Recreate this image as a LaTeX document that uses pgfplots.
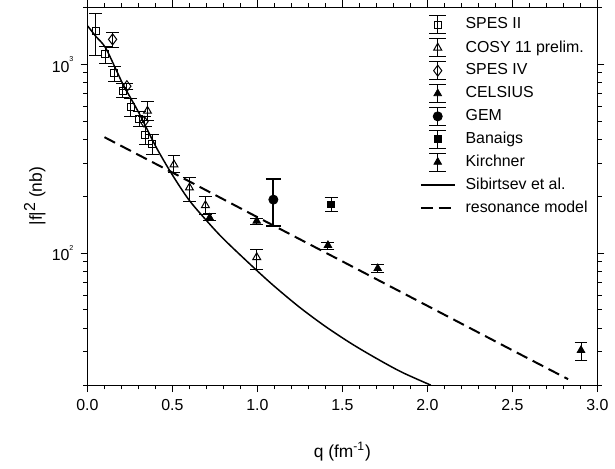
\documentclass[border=0pt]{standalone}
\usepackage{fontspec}
\setmainfont{Liberation Sans}
\usepackage{pgfplots}
\pgfplotsset{compat=1.18}

\newcommand{\dec}[1]{10\raisebox{5.5pt}{\fontsize{3.6}{4}\selectfont #1}}

\pgfplotsset{
  ebleg/.style={legend image code/.code={
    \path[draw=none, fill=none] (0cm,-5.75pt) rectangle (0.6cm,5.75pt);
    \draw[black, solid, line width=0.5pt] (0.3cm,-4.5pt) -- (0.3cm,4.5pt)
      (0.3cm-4.25pt,-4.5pt) -- (0.3cm+4.25pt,-4.5pt)
      (0.3cm-4.25pt,4.5pt) -- (0.3cm+4.25pt,4.5pt);
    \draw[##1] plot coordinates {(0.3cm,0cm)};
  }},
  lnleg/.style={legend image code/.code={
    \path[draw=none, fill=none] (0cm,-5.75pt) rectangle (0.6cm,5.75pt);
    \draw[##1] (0cm,0cm) -- (0.6cm,0cm);
  }},
  ebar/.style={only marks, black, ebleg,
    error bars/y dir=both, error bars/y explicit,
    error bars/error bar style={line width=0.5pt, black, solid},
    error bars/error mark options={rotate=90, mark size=3.25pt, line width=0.5pt, black, solid}},
  openmk/.style={mark options={fill=white, line width=0.5pt, solid}},
}

\begin{document}
\begin{tikzpicture}
\begin{axis}[
  scale only axis,
  width=256.5pt, height=190pt,
  ymode=log,
  xmin=0, xmax=3, ymin=20, ymax=2000,
  xtick={0,0.5,1,1.5,2,2.5,3},
  minor x tick num=4,
  ytick={100,1000},
  yticklabels={\dec{2},\dec{3}},
  minor ytick={20,30,40,50,60,70,80,90,200,300,400,500,600,700,800,900,2000},
  tick align=outside,
  major tick length=3.5pt, minor tick length=2.2pt,
  every tick/.style={black, line width=0.5pt},
  axis line style={line width=0.5pt},
  tick label style={font=\fontsize{8}{9.6}\selectfont},
  xticklabel style={/pgf/number format/.cd, fixed, fixed zerofill, precision=1, assume math mode=true},
  xlabel={q (fm\textsuperscript{-1})},
  ylabel={|f|\raisebox{0.75ex}{\fontsize{8}{8}\selectfont 2} (nb)},
  xlabel style={font=\fontsize{8.75}{10}\selectfont, at={(axis description cs:0.5,-0.1763)}, anchor=center},
  ylabel style={font=\fontsize{8.75}{10}\selectfont, at={(axis description cs:-0.1033,0.5)}, anchor=center, rotate=0},
  legend cell align=left,
  legend style={draw=none, fill=none, at={(axis description cs:0.651,0.985)}, anchor=north west,
    font=\fontsize{8}{9.6}\selectfont, row sep=0pt, column sep=5pt, inner sep=0pt,
    nodes={inner sep=0pt}},
]
% curves behind the data
\addplot[black, line width=0.75pt, smooth, tension=0.5, forget plot] coordinates {
  (0,1600) (0.05,1403) (0.109,1210) (0.207,791) (0.304,550) (0.402,367)
  (0.499,260) (0.596,192) (0.694,151) (0.8,119) (0.977,84) (1.1,66.7)
  (1.25,51.5) (1.4,40.9) (1.55,33.3) (1.7,27.7) (1.85,23.4) (2.02,20.0)
};
\addplot[black, line width=1pt, dash pattern=on 6pt off 3pt, forget plot] coordinates {
  (0.1,411) (0.5,267) (1.0,155) (1.5,90.4) (2.0,52.6) (2.5,30.6) (2.828,21.5)
};

% SPES II
\addplot[ebar, mark=square, mark size=1.75pt, openmk] coordinates {
  (0.050,1493) += (0,372) -= (0,378)
  (0.105,1129) += (0,107) -= (0,121)
  (0.158,900) += (0,79) -= (0,85)
  (0.207,724) += (0,66) -= (0,59)
  (0.255,596) += (0,63) -= (0,68)
  (0.304,511) += (0,50) -= (0,43)
  (0.339,423) += (0,45) -= (0,48)
  (0.382,379) += (0,44) -= (0,47)
};
\addlegendentry{SPES II}
% COSY 11
\addplot[ebar, mark=triangle, mark size=2.3pt, openmk] coordinates {
  (0.353,566) += (0,68) -= (0,64)
  (0.509,294) += (0,35) -= (0,28)
  (0.600,222) += (0,29) -= (0,34)
  (0.694,179) += (0,20) -= (0,19)
  (0.996,95) += (0,10) -= (0,13)
};
\addlegendentry{COSY 11 prelim.}
% SPES IV
\addplot[ebar, mark=diamond, mark size=2.75pt, openmk] coordinates {
  (0.148,1355) += (0,125) -= (0,122)
  (0.232,766) += (0,30) -= (0,30)
  (0.333,497) += (0,30) -= (0,30)
};
\addlegendentry{SPES IV}
% CELSIUS
\addplot[ebar, mark=triangle*, mark size=2.2pt] coordinates {
  (0.719,154) += (0,8) -= (0,6)
  (0.996,148) += (0,5) -= (0,6)
  (1.415,110) += (0,4) -= (0,5)
  (1.708,83) += (0,4) -= (0,4)
};
\addlegendentry{CELSIUS}
% GEM
\addplot[ebar, mark=*, mark size=2.3pt,
  error bars/error bar style={line width=1pt, black},
  error bars/error mark options={rotate=90, mark size=3.75pt, line width=1pt, black}] coordinates {
  (1.094,192) += (0,55) -= (0,53)
};
\addlegendentry{GEM}
% Banaigs
\addplot[ebar, mark=square*, mark size=1.7pt] coordinates {
  (1.434,181) += (0,15) -= (0,14)
};
\addlegendentry{Banaigs}
% Kirchner
\addplot[ebar, mark=triangle*, mark size=2.2pt] coordinates {
  (2.904,30.6) += (0,3) -= (0,3.6)
};
\addlegendentry{Kirchner}

\addlegendimage{lnleg, black, line width=0.75pt}
\addlegendentry{Sibirtsev et al.}
\addlegendimage{lnleg, black, line width=1pt, dash pattern=on 6pt off 3pt}
\addlegendentry{resonance model}
\end{axis}
\path (current axis.south west) ++(-44pt,-39pt) coordinate (bl);
\path (current axis.north east) ++(7pt,3.5pt) coordinate (tr);
\path (bl) rectangle (tr);
\end{tikzpicture}
\end{document}
